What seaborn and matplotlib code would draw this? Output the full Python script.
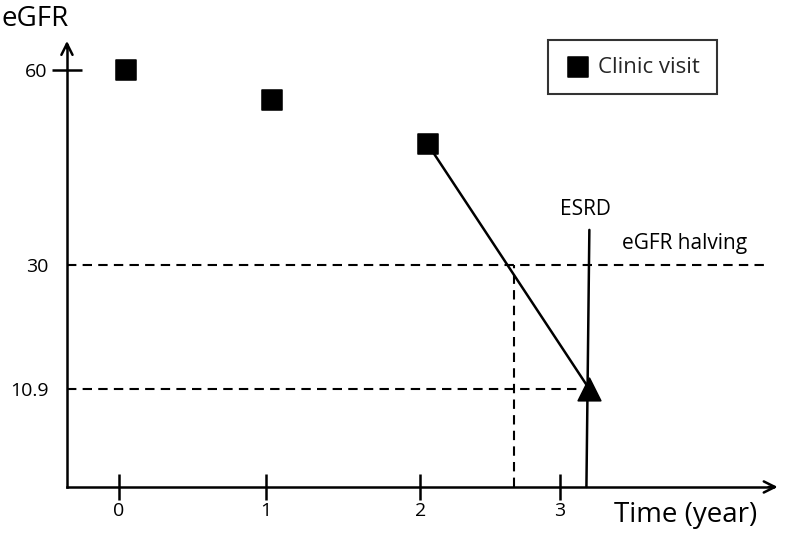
import matplotlib
matplotlib.use("Agg")
import matplotlib.pyplot as plt
import seaborn as sns
import pandas as pd

# clinic visits (time in years, eGFR)
visit_time = [0.05, 1.04, 2.10]
visit_egfr = [60, 55.4, 48.6]
# projected end-stage point
esrd_time = [3.20]
esrd_egfr = [10.9]
# reference levels
halving_egfr = 30
halving_time = 2.69
x_tick_pos = [0, 1, 2.05, 3]
x_tick_labels = ["0", "1", "2", "3"]

sns.set_theme(style="white")
plt.rcParams['font.family'] = ['Open Sans', 'DejaVu Sans']

fig = plt.figure(figsize=(8, 5.35), dpi=100)
ax = fig.add_axes([0, 0, 1, 1])
ax.set_xlim(-0.8095, 4.633)
ax.set_ylim(-11.54, 70.77)

x0, y0 = -0.354, -4.15
x_end, y_end = 4.50, 64.9

for s in ["top", "right"]:
    ax.spines[s].set_visible(False)
ax.spines["left"].set_position(("data", x0))
ax.spines["bottom"].set_position(("data", y0))
ax.spines["left"].set_bounds(y0, y_end - 1)
ax.spines["bottom"].set_bounds(x0, x_end - 0.05)
for s in ["left", "bottom"]:
    ax.spines[s].set_color("black")
    ax.spines[s].set_linewidth(1.8)

# axis arrowheads
ax.annotate("", xy=(x0, y_end), xytext=(x0, y_end - 2),
            arrowprops=dict(arrowstyle="->", lw=1.8, color="black", mutation_scale=20))
ax.annotate("", xy=(x_end, y0), xytext=(x_end - 0.1, y0),
            arrowprops=dict(arrowstyle="->", lw=1.8, color="black", mutation_scale=20))

ax.set_xticks(x_tick_pos, x_tick_labels)
ax.tick_params(axis="x", direction="inout", length=19, width=1.8, color="black",
               pad=1, labelsize=14, bottom=True)
ax.set_yticks([60], ["60"])
ax.set_yticks([halving_egfr, esrd_egfr[0]], ["30", "10.9"], minor=True)
ax.tick_params(axis="y", which="major", direction="inout", length=21.6, width=1.8,
               color="black", pad=3, labelsize=14, left=True)
ax.tick_params(axis="y", which="minor", length=0, pad=13, labelsize=14, left=True)
for lab in ax.get_xticklabels() + ax.get_yticklabels(which="both"):
    lab.set_color("black")
ax.grid(False)

dash = (0, (4.5, 3))
# dashed reference lines
ax.plot([x0, 4.39], [halving_egfr, halving_egfr], color="black", lw=1.5, ls=dash)
ax.plot([x0, esrd_time[0] - 0.07], [esrd_egfr[0], esrd_egfr[0]], color="black", lw=1.5, ls=dash)
ax.plot([halving_time, halving_time], [y0, halving_egfr], color="black", lw=1.5, ls=dash)

# decline line and ESRD line
ax.plot([visit_time[-1], esrd_time[0]], [visit_egfr[-1], esrd_egfr[0]], color="black", lw=1.8)
ax.plot([esrd_time[0] - 0.02, esrd_time[0]], [y0, 35.4], color="black", lw=1.8)

visits = pd.DataFrame({"time": visit_time, "egfr": visit_egfr})
sns.scatterplot(data=visits, x="time", y="egfr", marker="s", s=200, color="black",
                edgecolor="black", ax=ax, label="Clinic visit", zorder=5)
sns.scatterplot(x=esrd_time, y=esrd_egfr, marker="^", s=260, color="black",
                edgecolor="black", ax=ax, zorder=5, legend=False)
ax.set_xlabel("")
ax.set_ylabel("")

leg = ax.legend(loc="upper left", bbox_to_anchor=(548 / 800, 1 - 40 / 535),
                frameon=True, fancybox=False, edgecolor="black", fontsize=16,
                borderpad=0.75, handletextpad=0.3, handlelength=1.2,
                borderaxespad=0)
leg.get_frame().set_linewidth(1.5)

ax.text(-0.80, 67.9, "eGFR", fontsize=20, color="black", va="center", ha="left")
ax.text(3.37, -8.4, "Time (year)", fontsize=20, color="black", va="center", ha="left")
ax.text(3.17, 38.6, "ESRD", fontsize=15, color="black", va="center", ha="center")
ax.text(3.42, 33.3, "eGFR halving", fontsize=15, color="black", va="center", ha="left")

fig.savefig("out.png", dpi=100)
